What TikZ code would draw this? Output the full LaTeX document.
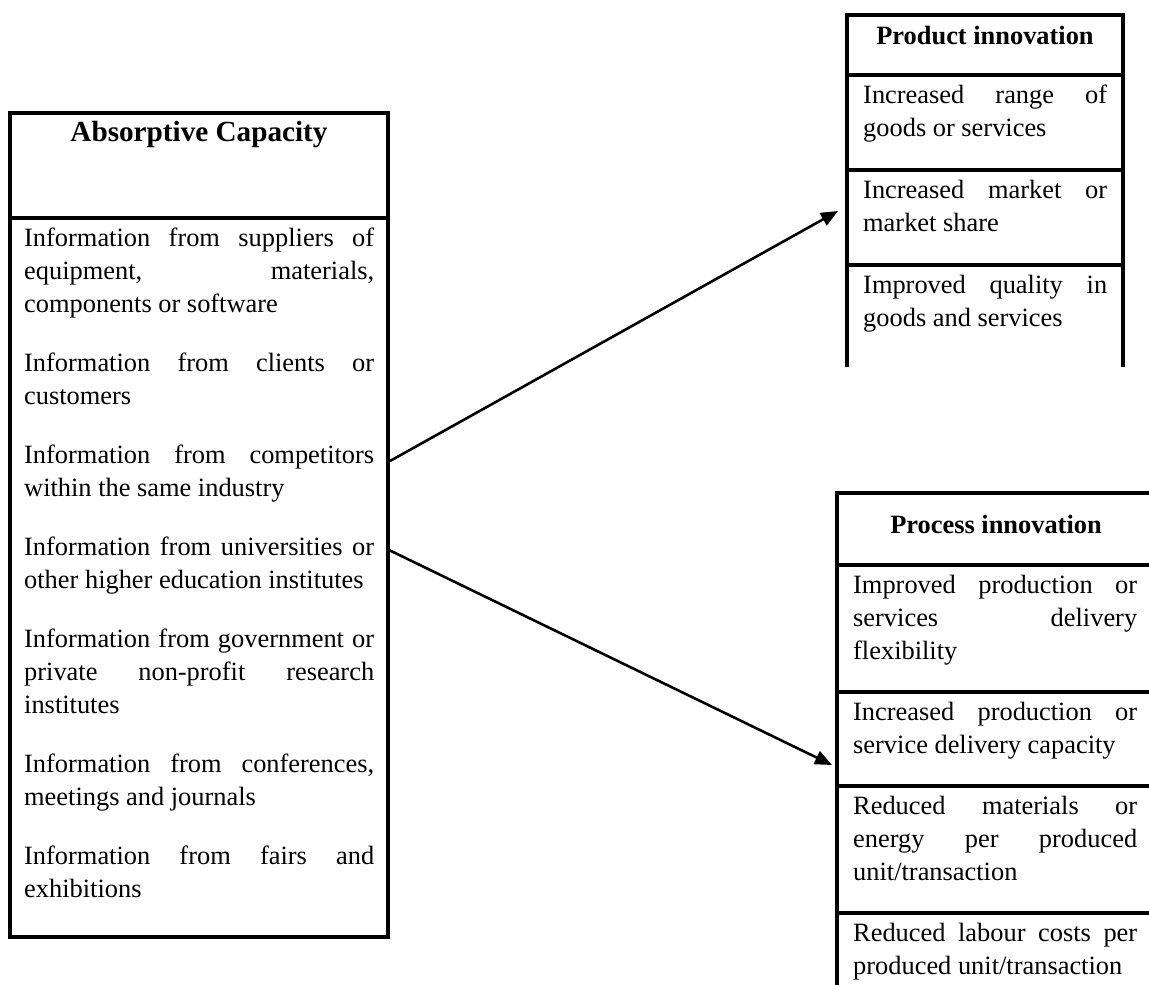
\documentclass[tikz,border=0pt]{standalone}
\usepackage{fontspec}
\setmainfont{Liberation Serif}
\usetikzlibrary{arrows.meta}
\newcommand\bodyfont{\fontsize{26.4}{33}\selectfont}
\newcommand\bighead{\fontsize{29.2}{35}\selectfont\bfseries}
\begin{document}
\tolerance=10000 \hyphenpenalty=10000 \exhyphenpenalty=10000
\begin{tikzpicture}[x=1pt,y=-1pt,
  frame/.style={line width=4pt},
  cell/.style={anchor=north west, inner sep=0pt, align=justify, font=\bodyfont, text width=#1},
  head/.style={anchor=base, inner sep=0pt, font=\bodyfont\bfseries},
  link/.style={line width=2.6pt, -{Triangle[length=17pt,width=14pt]}}]
\useasboundingbox (0,0) rectangle (1149,985);

% ---- Absorptive capacity box ----
\draw[frame] (10,113) rectangle (388,937);
\draw[frame] (10,218) -- (388,218);
\node[head, font=\bighead] (ach) at (199,141) {Absorptive Capacity};
\node[cell=350] (i1) at (24,222.9) {\strut Information~from~suppliers~of\linebreak equipment,~materials,\linebreak components~or~software};
\node[cell=350] (i2) at (24,347.9) {\strut Information~from~clients~or\linebreak customers};
\node[cell=350] (i3) at (24,439.9) {\strut Information~from~competitors\linebreak within~the~same~industry};
\node[cell=350] (i4) at (24,531.9) {\strut Information~from~universities~or\linebreak other~higher~education~institutes};
\node[cell=350] (i5) at (24,623.9) {\strut Information~from~government~or\linebreak private~non-profit~research\linebreak institutes};
\node[cell=350] (i6) at (24,748.9) {\strut Information~from~conferences,\linebreak meetings~and~journals};
\node[cell=350] (i7) at (24,840.9) {\strut Information~from~fairs~and\linebreak exhibitions};

% ---- Product innovation box (open at the bottom) ----
\draw[frame] (847,367) -- (847,15) -- (1123,15) -- (1123,367);
\foreach \yy in {75,170,265} \draw[frame] (847,\yy) -- (1123,\yy);
\node[head] (pdh) at (985,44) {Product innovation};
\node[cell=244] (p1) at (863,79.9) {\strut Increased~range~of\linebreak goods~or~services};
\node[cell=244] (p2) at (863,174.9) {\strut Increased~market~or\linebreak market~share};
\node[cell=244] (p3) at (863,269.9) {\strut Improved~quality~in\linebreak goods~and~services};

% ---- Process innovation box (runs past the right and bottom edges) ----
\draw[frame] (837,985) -- (837,493) -- (1149,493);
\foreach \yy in {565,692,786,913} \draw[frame] (837,\yy) -- (1149,\yy);
\node[head] (prh) at (996,533) {Process innovation};
\node[cell=284] (r1) at (853,569.9) {\strut Improved~production~or\linebreak services~delivery\linebreak flexibility};
\node[cell=284] (r2) at (853,696.9) {\strut Increased~production~or\linebreak service~delivery~capacity};
\node[cell=284] (r3) at (853,790.9) {\strut Reduced~materials~or\linebreak energy~per~produced\linebreak unit/transaction};
\node[cell=284] (r4) at (853,917.9) {\strut Reduced~labour~costs~per\linebreak produced~unit/transaction};

% ---- Links ----
\coordinate (a1s) at (390,461);
\coordinate (a1e) at (838,211);
\coordinate (a2s) at (389,550);
\coordinate (a2e) at (832,765);
\draw[link] (a1s) -- (a1e);
\draw[link] (a2s) -- (a2e);
\end{tikzpicture}
\end{document}
